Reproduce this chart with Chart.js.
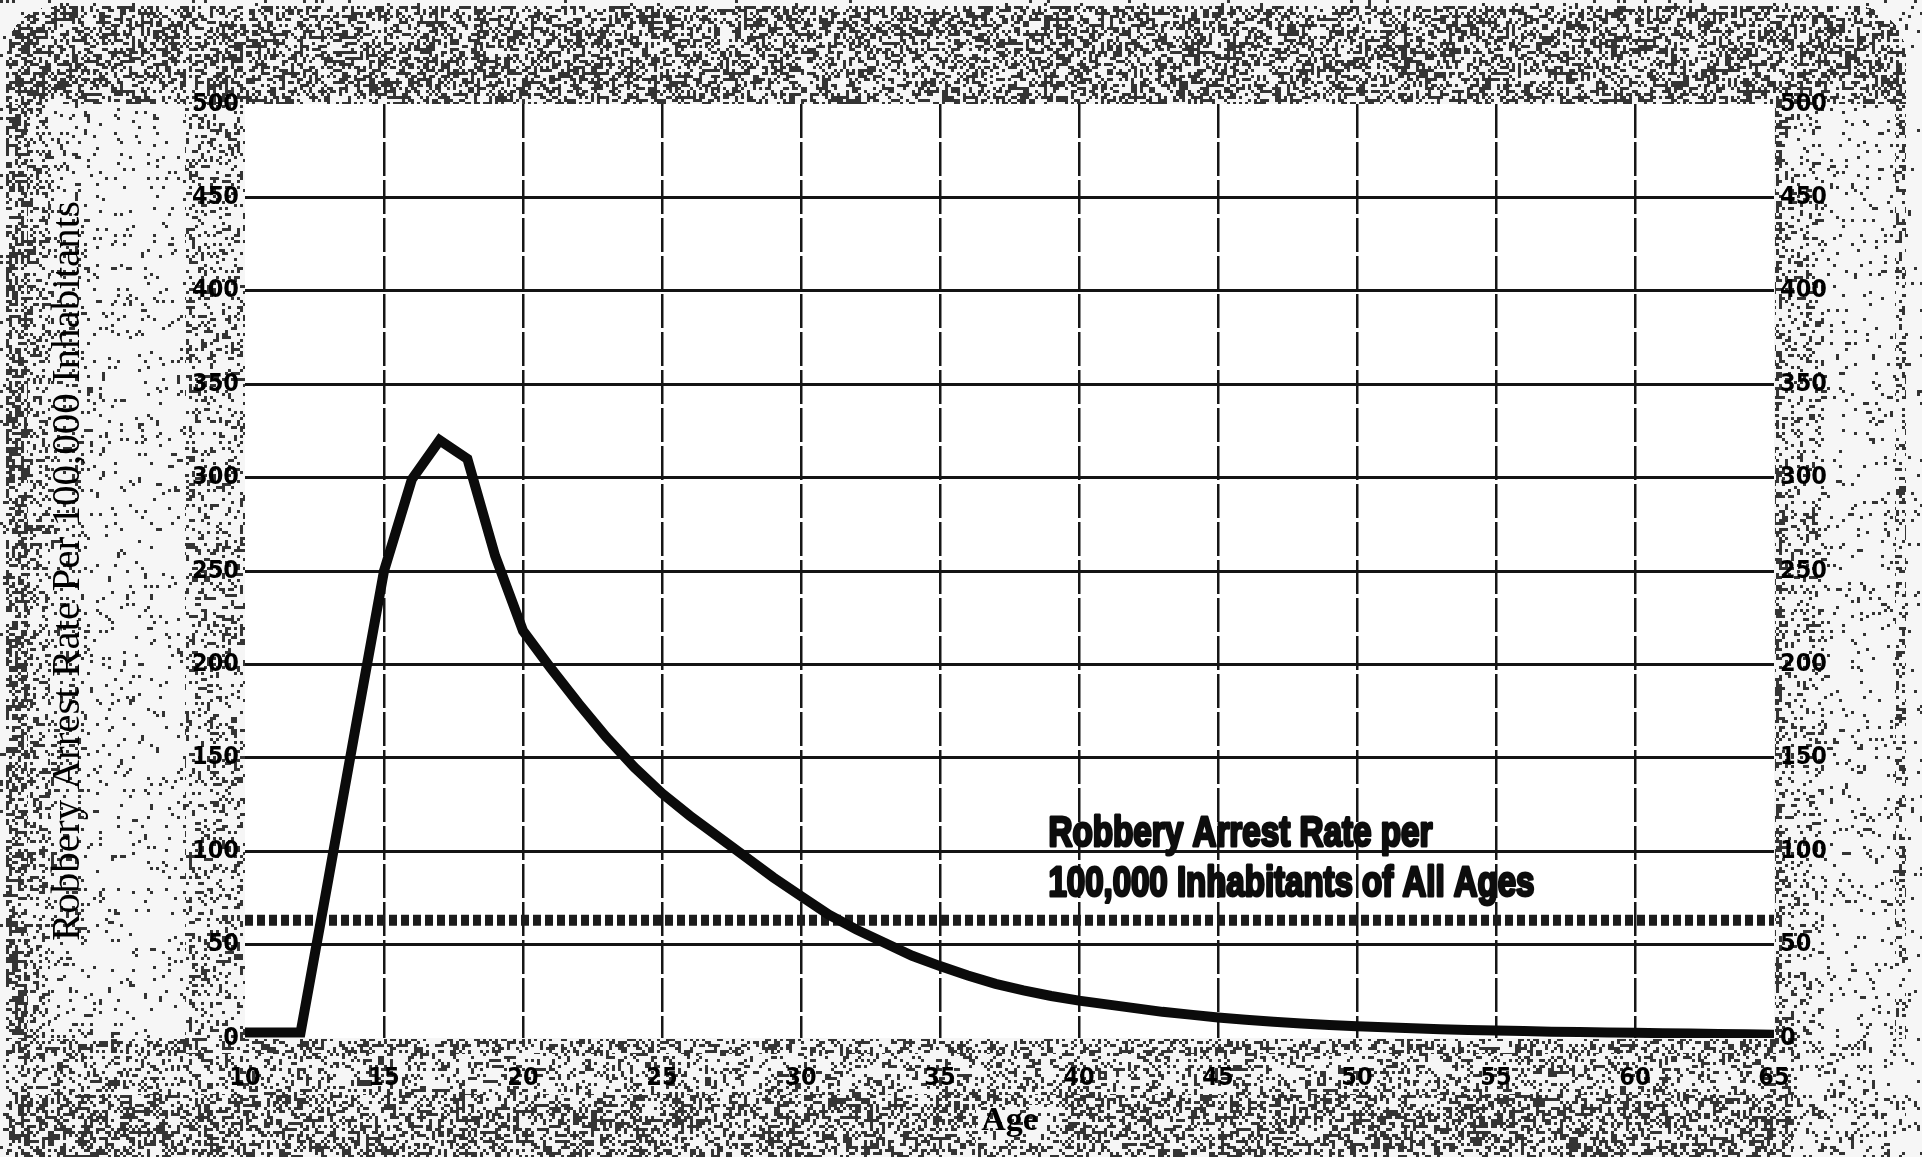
<!DOCTYPE html>
<html>
<head>
<meta charset="utf-8">
<title>Robbery Arrest Rate by Age</title>
<script src="https://cdn.jsdelivr.net/npm/chart.js@4.4.0/dist/chart.umd.min.js"></script>
<style>
  html, body { margin: 0; padding: 0; background: #fff; overflow: hidden; }
  #wrap { width: 1922px; height: 1157px; }
</style>
</head>
<body>
<div id="wrap"><canvas id="myChart" width="1922" height="1157"></canvas></div>
<script>
// DATA

var ages = [10, 11, 12, 13, 14, 15, 16, 17, 18, 19,
            20, 21, 22, 23, 24, 25, 26, 27, 28, 29,
            30, 31, 32, 33, 34, 35, 36, 37, 38, 39,
            40, 41, 42, 43, 44, 45, 46, 47, 48, 49,
            50, 51, 52, 53, 54, 55, 56, 57, 58, 59,
            60, 61, 62, 63, 64, 65];

var robberyRate = [3, 3, 3, 85, 168, 250, 299, 320, 310, 258,
                   218, 198, 179, 161, 145, 131, 119, 108, 97, 86,
                   76, 66, 58, 51, 44, 38.5, 33.5, 29, 25.5, 22.5,
                   20, 18, 16, 14, 12.5, 11, 9.8, 8.7, 7.8, 7,
                   6.3, 5.7, 5.2, 4.7, 4.3, 4, 3.7, 3.4, 3.2, 3,
                   2.8, 2.6, 2.4, 2.2, 2, 1.8];

var allAgesRate = 63;

var xTicks = [10, 15, 20, 25, 30, 35, 40, 45, 50, 55, 60, 65];
var yTicks = [0, 50, 100, 150, 200, 250, 300, 350, 400, 450, 500];

var noteLines = ["Robbery Arrest Rate per", "100,000 Inhabitants of All Ages"];

// where the note sits (age, rate of each baseline) and how wide each line is
var noteAt = { age: 38.9, values: [103, 76], widths: [384, 486] };


// SCANNED PAPER BACKGROUND

function hash(x, y) {
  var h = Math.imul(x, 374761393) + Math.imul(y, 668265263) | 0;
  h = Math.imul(h ^ (h >>> 13), 1274126177);
  h = h ^ (h >>> 16);
  return (h >>> 0) / 4294967296;
}

function inFrame(x, y) {
  var x0 = 6, y0 = 6, x1 = 1905, y1 = 1190, r = 48;
  if (x < x0 || x > x1 || y < y0 || y > y1) return false;
  var cx = x < x0 + r ? x0 + r : (x > x1 - r ? x1 - r : x);
  var cy = y < y0 + r ? y0 + r : (y > y1 - r ? y1 - r : y);
  var dx = x - cx, dy = y - cy;
  return dx * dx + dy * dy <= r * r;
}

function density(x, y, a) {
  if (!inFrame(x, y)) return 0.04;
  if (y < a.top) return 0.46;
  if (y > a.bottom) {
    if (x > a.right + 18) return 0.14;
    if (y < a.bottom + 16) return 0.4;
    if (y < a.bottom + 56) return 0.26;
    if (y > a.bottom + 66 && y < a.bottom + 108 && x > 975 && x < 1060) return 0.16;
    return 0.44;
  }
  if (x < a.left) {
    if (x < 28) return 0.52;
    if (x < 50) return 0.3;
    if (x < 90) return 0.12;
    if (x < 185) return 0.06;
    return 0.24;
  }
  if (x > a.right) {
    if (x < a.right + 8) return 0.45;
    if (x < a.right + 50) return 0.2;
    if (x < 1895) return 0.06;
    return 0.3;
  }
  return 0;
}

var noiseImg = null;

function makeNoise(ctx, w, h, a) {
  var img = ctx.createImageData(w, h);
  var d = img.data;
  for (var y = 0; y < h; y++) {
    for (var x = 0; x < w; x++) {
      var p = density(x, y, a);
      var v = hash((x / 3) | 0, (y / 3) | 0) < p ? 52 : 246;
      var i = (y * w + x) * 4;
      d[i] = v; d[i + 1] = v; d[i + 2] = v; d[i + 3] = 255;
    }
  }
  return img;
}

var paperNoise = {
  id: 'paperNoise',
  beforeDraw: function(chart) {
    var ctx = chart.ctx, a = chart.chartArea;
    if (!noiseImg) noiseImg = makeNoise(ctx, chart.width, chart.height, a);
    ctx.putImageData(noiseImg, 0, 0);
    ctx.save();
    ctx.fillStyle = '#ffffff';
    ctx.fillRect(a.left, a.top, a.right - a.left, a.bottom - a.top);
    ctx.restore();
  }
};

// NOTE ABOVE THE DOTTED LINE

var noteLabel = {
  id: 'noteLabel',
  afterDatasetsDraw: function(chart) {
    var ctx = chart.ctx, xs = chart.scales.x, ys = chart.scales.y;
    var x0 = xs.getPixelForValue(noteAt.age);
    ctx.save();
    ctx.font = 'bold 42px "Liberation Sans", Arial, sans-serif';
    ctx.fillStyle = '#0d0d0d';
    ctx.strokeStyle = '#0d0d0d';
    ctx.lineWidth = 3;
    ctx.lineJoin = 'round';
    ctx.textBaseline = 'alphabetic';
    noteLines.forEach(function(t, i) {
      var y = ys.getPixelForValue(noteAt.values[i]);
      var sx = noteAt.widths[i] / ctx.measureText(t).width;
      ctx.save();
      ctx.translate(x0, y);
      ctx.scale(sx, 1);
      ctx.strokeText(t, 0, 0);
      ctx.fillText(t, 0, 0);
      ctx.restore();
    });
    ctx.restore();
  }
};


// CHART

var tickFont = { family: '"DejaVu Sans Condensed", "Liberation Sans Narrow", "Liberation Sans", sans-serif', size: 25, weight: 'bold' };

function edgeless(list, color) {
  return function(c) {
    if (!c.tick) return color;
    var v = c.tick.value;
    return (v === list[0] || v === list[list.length - 1]) ? 'rgba(0,0,0,0)' : color;
  };
}

var ctx = document.getElementById('myChart').getContext('2d');

var chart = new Chart(ctx, {
  type: 'line',
  data: {
    datasets: [{
      label: 'Robbery Arrest Rate',
      data: ages.map(function(a, i) { return { x: a, y: robberyRate[i] }; }),
      borderColor: '#0b0b0b',
      borderWidth: 10,
      pointRadius: 0,
      tension: 0,
      yAxisID: 'y'
    },
    {
      label: 'All Ages',
      data: [{ x: ages[0], y: allAgesRate }, { x: ages[ages.length - 1], y: allAgesRate }],
      borderColor: '#1c1c1c',
      borderWidth: 11,
      borderDash: [8, 4],
      borderCapStyle: 'butt',
      pointRadius: 0,
      yAxisID: 'y'
    }]
  },
  options: {
    responsive: false,
    animation: false,
    layout: { padding: { top: 104, left: 0, right: 0, bottom: 0 } },
    plugins: {
      legend: { display: false },
      tooltip: { enabled: false }
    },
    scales: {
      x: {
        type: 'linear',
        min: xTicks[0],
        max: xTicks[xTicks.length - 1],
        afterBuildTicks: function(s) { s.ticks = xTicks.map(function(v) { return { value: v }; }); },
        afterFit: function(s) { s.height = 119; },
        grid: { color: edgeless(xTicks, '#161616'), lineWidth: 2.5, drawTicks: false },
        border: { display: false, dash: [34, 4] },
        ticks: { padding: 25, font: tickFont, color: '#000', maxRotation: 0 },
        title: {
          display: true,
          text: 'Age',
          color: '#000',
          font: { family: '"Liberation Serif", "Times New Roman", serif', size: 34, weight: 'bold' },
          padding: { top: 0, bottom: 15 }
        }
      },
      y: {
        position: 'left',
        min: yTicks[0],
        max: yTicks[yTicks.length - 1],
        afterBuildTicks: function(s) { s.ticks = yTicks.map(function(v) { return { value: v }; }); },
        afterFit: function(s) { s.width = 245; },
        grid: { color: edgeless(yTicks, '#141414'), lineWidth: 3, drawTicks: false },
        border: { display: false },
        ticks: { padding: 6, font: tickFont, color: '#000' },
        title: {
          display: true,
          text: 'Robbery Arrest Rate Per 100,000 Inhabitants',
          color: '#000',
          font: { family: '"Liberation Serif", "Times New Roman", serif', size: 41 },
          padding: { top: 44, bottom: 0 }
        }
      },
      y2: {
        position: 'right',
        min: yTicks[0],
        max: yTicks[yTicks.length - 1],
        afterBuildTicks: function(s) { s.ticks = yTicks.map(function(v) { return { value: v }; }); },
        afterFit: function(s) { s.width = 148; },
        grid: { display: false, drawTicks: false },
        border: { display: false },
        ticks: { padding: 6, font: tickFont, color: '#000' }
      }
    }
  },
  plugins: [paperNoise, noteLabel]
});
</script>
</body>
</html>
